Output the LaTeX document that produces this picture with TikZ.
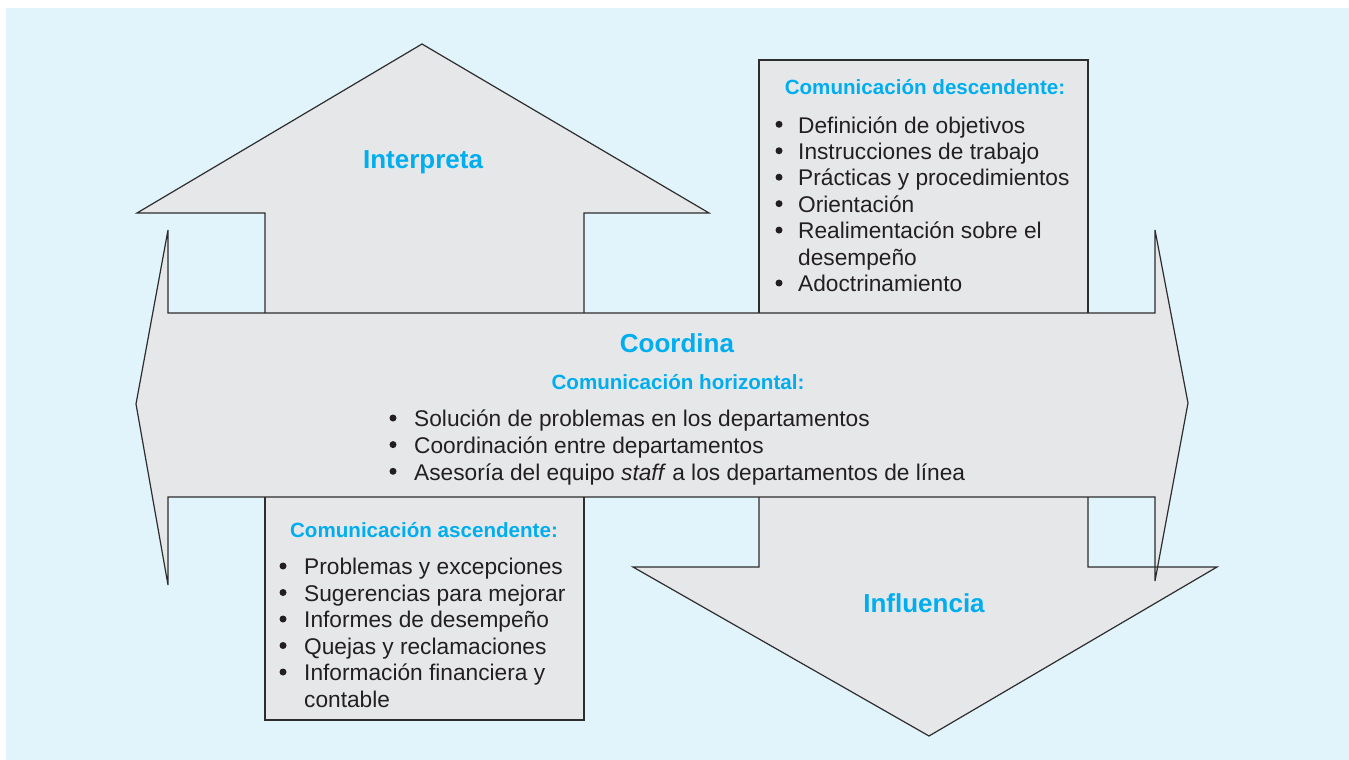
\documentclass[tikz,border=0pt]{standalone}
\usepackage{fontspec}
\setmainfont{Liberation Sans}
\definecolor{bgblue}{RGB}{225,244,252}
\definecolor{shapegray}{RGB}{230,231,233}
\definecolor{edgegray}{RGB}{45,45,45}
\definecolor{cyantext}{RGB}{0,174,239}
\definecolor{bodytext}{RGB}{35,31,32}
\begin{document}
\begin{tikzpicture}[x=1pt,y=-1pt,
  shapefill/.style={fill=shapegray},
  outline/.style={draw=edgegray,line width=1.2pt,line join=miter},
  bigtitle/.style={text=cyantext,font=\fontsize{26}{30}\selectfont\bfseries,inner sep=0,anchor=base},
  subtitle/.style={text=cyantext,font=\fontsize{20.6}{24}\selectfont\bfseries,inner sep=0,anchor=base},
  itemtext/.style={text=bodytext,font=\fontsize{22.7}{26.5}\selectfont,inner sep=0,anchor=base west},
  bulletmark/.style={circle,fill=bodytext,inner sep=0,minimum size=7pt,yshift=8.7pt}
]
\useasboundingbox (0,0) rectangle (1349,760);
\fill[white] (0,0) rectangle (1349,760);
\fill[bgblue] (6,8) rectangle (1349,760);

\def\uparrowpath{(265,313) -- (265,213) -- (137,213) -- (422,44) -- (709,213) -- (584,213) -- (584,313)}
\def\bandpath{(168,313) -- (168,230) -- (136,404) -- (168,585) -- (168,497) -- (1155,497) -- (1155,581) -- (1188,403) -- (1155,230) -- (1155,313) -- cycle}
\def\descpath{(759,313) -- (759,60) -- (1088,60) -- (1088,313)}
\def\ascpath{(265,497) -- (265,720) -- (584,720) -- (584,497)}
\def\downpath{(759,497) -- (759,567) -- (633,567) -- (929,736) -- (1217,567) -- (1088,567) -- (1088,497)}

% fills
\fill[shapefill] \uparrowpath -- cycle;
\fill[shapefill] \bandpath;
\fill[shapefill] \descpath -- cycle;
\fill[shapefill] \ascpath -- cycle;
\fill[shapefill] \downpath -- cycle;
% outlines
\draw[outline] \uparrowpath;
\draw[outline] \descpath;
\draw[outline] \ascpath;
\draw[outline] \downpath;
\draw[outline] \bandpath;

% titles
\node[bigtitle] (interp) at (423,168) {Interpreta};
\node[bigtitle] (coord) at (677,352) {Coordina};
\node[bigtitle] (influ) at (924,612) {Influencia};
\node[subtitle] (deschead) at (925,95) {Comunicación descendente:};
\node[subtitle] (horhead) at (678,389) {Comunicación horizontal:};
\node[subtitle] (aschead) at (424,537) {Comunicación ascendente:};

% descendente list
\node[bulletmark] (db1) at (779,133) {};
\node[itemtext] (dt1) at (798,133) {Definición de objetivos};
\node[bulletmark] (db2) at (779,159.45) {};
\node[itemtext] (dt2) at (798,159.45) {Instrucciones de trabajo};
\node[bulletmark] (db3) at (779,185.9) {};
\node[itemtext] (dt3) at (798,185.9) {Prácticas y procedimientos};
\node[bulletmark] (db4) at (779,212.35) {};
\node[itemtext] (dt4) at (798,212.35) {Orientación};
\node[bulletmark] (db5) at (779,238.8) {};
\node[itemtext] (dt5) at (798,238.8) {Realimentación sobre el};
\node[itemtext] (dt6) at (798,265.25) {desempeño};
\node[bulletmark] (db7) at (779,291.7) {};
\node[itemtext] (dt7) at (798,291.7) {Adoctrinamiento};

% horizontal list
\node[bulletmark] (hb1) at (393,426.7) {};
\node[itemtext] (ht1) at (414,426.7) {Solución de problemas en los departamentos};
\node[bulletmark] (hb2) at (393,453.3) {};
\node[itemtext] (ht2) at (414,453.3) {Coordinación entre departamentos};
\node[bulletmark] (hb3) at (393,480) {};
\node[itemtext] (ht3) at (414,480) {Asesoría del equipo \textit{staff} a los departamentos de línea};

% ascendente list
\node[bulletmark] (ab1) at (283,574.7) {};
\node[itemtext] (at1) at (304,574.7) {Problemas y excepciones};
\node[bulletmark] (ab2) at (283,601.2) {};
\node[itemtext] (at2) at (304,601.2) {Sugerencias para mejorar};
\node[bulletmark] (ab3) at (283,627.7) {};
\node[itemtext] (at3) at (304,627.7) {Informes de desempeño};
\node[bulletmark] (ab4) at (283,654.2) {};
\node[itemtext] (at4) at (304,654.2) {Quejas y reclamaciones};
\node[bulletmark] (ab5) at (283,680.7) {};
\node[itemtext] (at5) at (304,680.7) {Información financiera y};
\node[itemtext] (at6) at (304,707.2) {contable};
\end{tikzpicture}
\end{document}
